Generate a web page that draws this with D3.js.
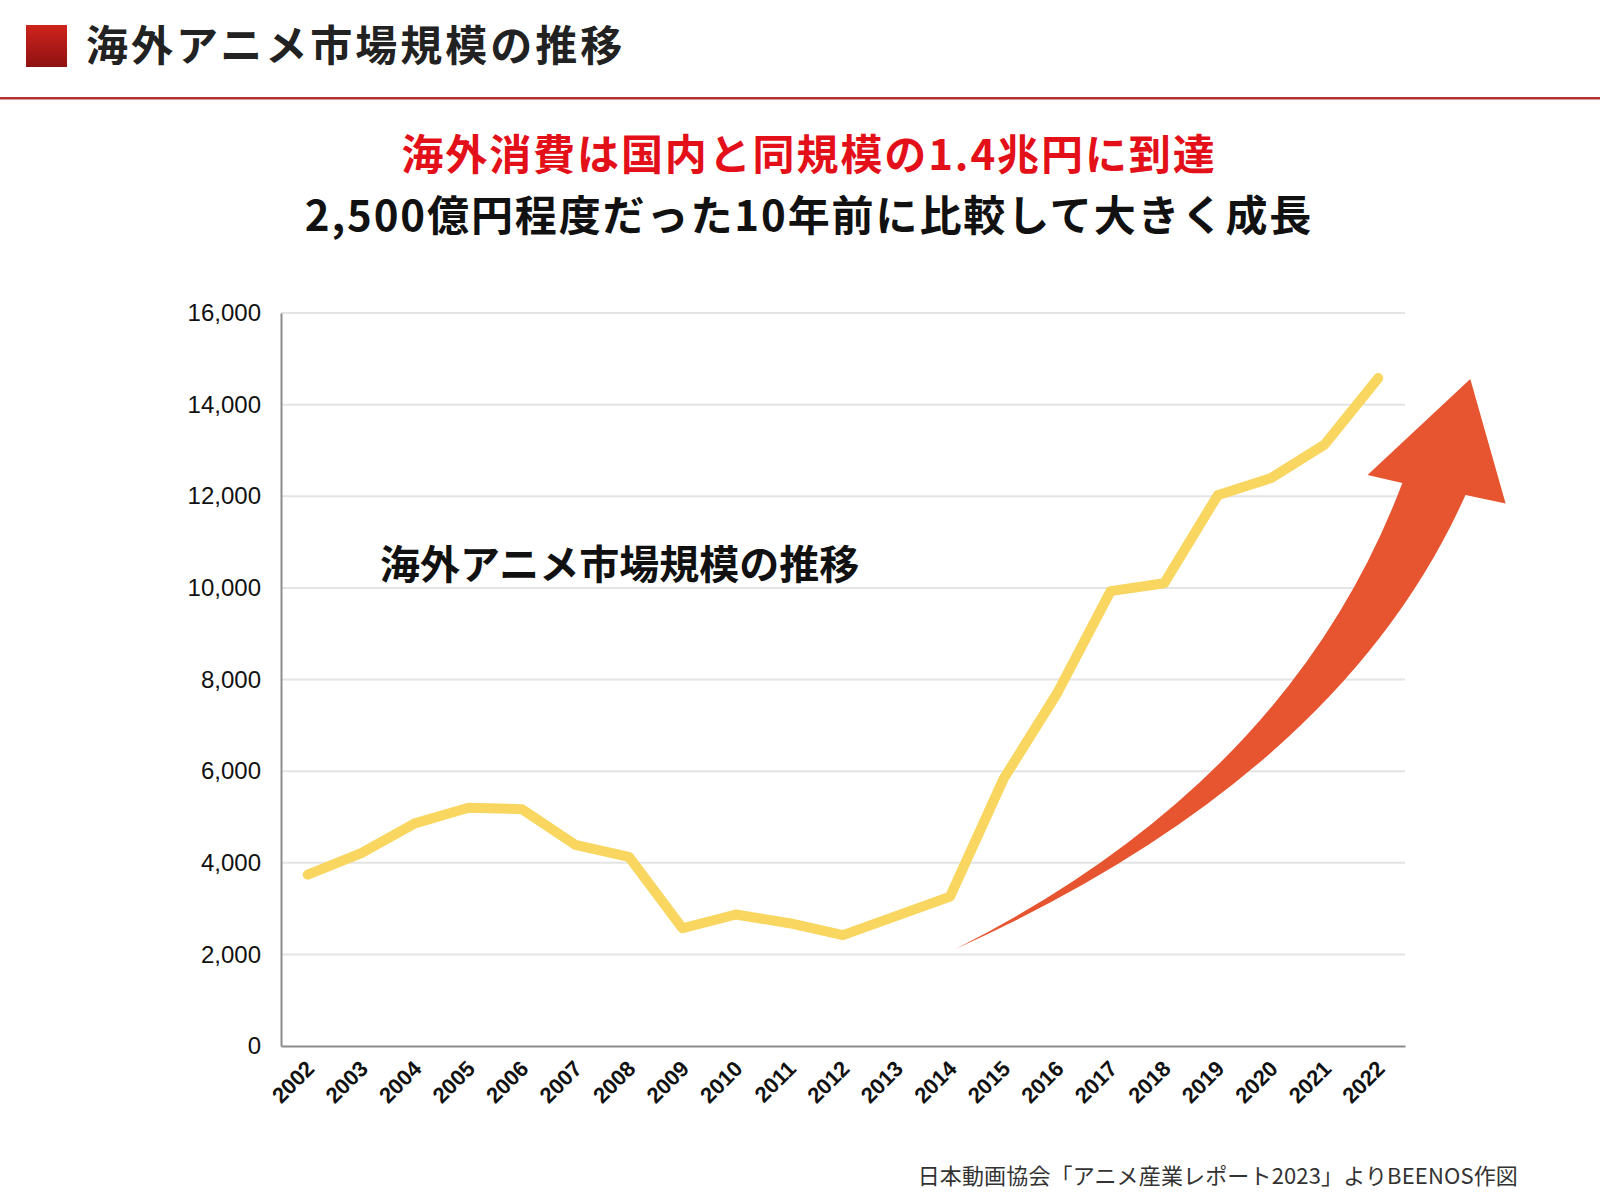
<!DOCTYPE html>
<html><head><meta charset="utf-8">
<script src="https://cdn.jsdelivr.net/npm/d3@7"></script>
<style>
html,body{margin:0;padding:0;background:#fff;}
svg{display:block;}
</style></head>
<body>
<svg id="c" width="1600" height="1200"></svg>
<script>
const years = ["2002","2003","2004","2005","2006","2007","2008","2009","2010","2011","2012","2013","2014","2015","2016","2017","2018","2019","2020","2021","2022"];
const values = [3740,4210,4860,5200,5170,4390,4130,2570,2870,2680,2420,2840,3260,5830,7700,9930,10100,12020,12400,13130,14580];
const yTicks = [0,2000,4000,6000,8000,10000,12000,14000,16000];
const pageTitle = "海外アニメ市場規模の推移";
const headline1 = "海外消費は国内と同規模の1.4兆円に到達";
const headline2 = "2,500億円程度だった10年前に比較して大きく成長";
const chartLabel = "海外アニメ市場規模の推移";
const sourceNote = "日本動画協会「アニメ産業レポート2023」よりBEENOS作図";
// decorative arrow, in (year index, value) space
const arrowUpper = [[12.10,2117],[18.36,5807],[20.45,12290]];
const arrowHead = [[19.80,12465],[21.72,14560],[22.38,11843]];
const arrowLower = [[21.63,12028],[19.30,5916],[12.10,2117]];

const svg = d3.select("#c");
const jp = "'Noto Sans CJK JP','Noto Sans',sans-serif";
const lat = "'Liberation Sans',Arial,sans-serif";

// header
const defs = svg.append("defs");
const g1 = defs.append("linearGradient").attr("id","sq").attr("x1",0).attr("y1",0).attr("x2",0).attr("y2",1);
g1.append("stop").attr("offset","0%").attr("stop-color","#cf231c");
g1.append("stop").attr("offset","100%").attr("stop-color","#8e1212");
svg.append("rect").attr("x",26).attr("y",25).attr("width",41).attr("height",42).attr("fill","url(#sq)");
svg.append("text").attr("x",86).attr("y",61).text(pageTitle)
  .attr("font-family",jp).attr("font-weight",700).attr("font-size",42).attr("letter-spacing",3)
  .attr("fill","#222");
svg.append("rect").attr("x",0).attr("y",97).attr("width",1600).attr("height",2.5).attr("fill","#b23232");

svg.append("text").attr("x",809).attr("y",170).attr("text-anchor","middle").text(headline1)
  .attr("font-family",jp).attr("font-weight",700).attr("font-size",42).attr("letter-spacing",1.9).attr("fill","#e3101a");
svg.append("text").attr("x",809).attr("y",231).attr("text-anchor","middle").text(headline2)
  .attr("font-family",jp).attr("font-weight",700).attr("font-size",42).attr("letter-spacing",1.9).attr("fill","#111");

// chart
const L=281, R=1405, T=313, B=1046;
const x = d3.scaleBand().domain(years).range([L,R]);
const xi = d3.scaleLinear().domain([0,20]).range([x(years[0])+x.bandwidth()/2, x(years[20])+x.bandwidth()/2]);
const y = d3.scaleLinear().domain([0,16000]).range([B,T]);

svg.append("g").selectAll("line").data(yTicks.slice(1)).join("line")
  .attr("x1",L).attr("x2",R).attr("y1",d=>y(d)).attr("y2",d=>y(d))
  .attr("stroke","#e4e4e4").attr("stroke-width",2);

const ya = svg.append("g").attr("transform",`translate(${L},0)`)
  .call(d3.axisLeft(y).tickValues(yTicks).tickFormat(d3.format(",")).tickSize(0).tickPadding(20));
ya.select(".domain").attr("stroke","#8c8c8c").attr("stroke-width",2);
ya.selectAll("text").attr("font-family",lat).attr("font-size",24).attr("fill","#111");

const xa = svg.append("g").attr("transform",`translate(0,${B})`)
  .call(d3.axisBottom(x).tickSize(0).tickPadding(0));
xa.select(".domain").attr("stroke","#8c8c8c").attr("stroke-width",2);
xa.selectAll("text").attr("font-family",lat).attr("font-weight",700).attr("font-size",22).attr("fill","#111")
  .attr("text-anchor","end").attr("dy",0)
  .attr("transform","translate(8,24) rotate(-45)");

// arrow
const P = d=>[xi(d[0]), y(d[1])];
const u = arrowUpper.map(P), h = arrowHead.map(P), lo = arrowLower.map(P);
const path = d3.path();
path.moveTo(...u[0]);
path.quadraticCurveTo(u[1][0],u[1][1],u[2][0],u[2][1]);
h.forEach(p=>path.lineTo(...p));
path.lineTo(...lo[0]);
path.quadraticCurveTo(lo[1][0],lo[1][1],lo[2][0],lo[2][1]);
path.closePath();
svg.append("path").attr("d",path.toString()).attr("fill","#e6552f");

// line
const line = d3.line().x((d,i)=>x(years[i])+x.bandwidth()/2).y(d=>y(d));
svg.append("path").datum(values).attr("d",line).attr("fill","none")
  .attr("stroke","#f8d660").attr("stroke-width",10).attr("stroke-linejoin","round").attr("stroke-linecap","round");

svg.append("text").attr("x",380).attr("y",579).text(chartLabel)
  .attr("font-family",jp).attr("font-weight",700).attr("font-size",40).attr("fill","#111");

svg.append("text").attr("x",1518).attr("y",1184).attr("text-anchor","end").text(sourceNote)
  .attr("font-family",jp).attr("font-weight",400).attr("font-size",22).attr("letter-spacing",0.15).attr("fill","#333");
</script>
</body></html>
